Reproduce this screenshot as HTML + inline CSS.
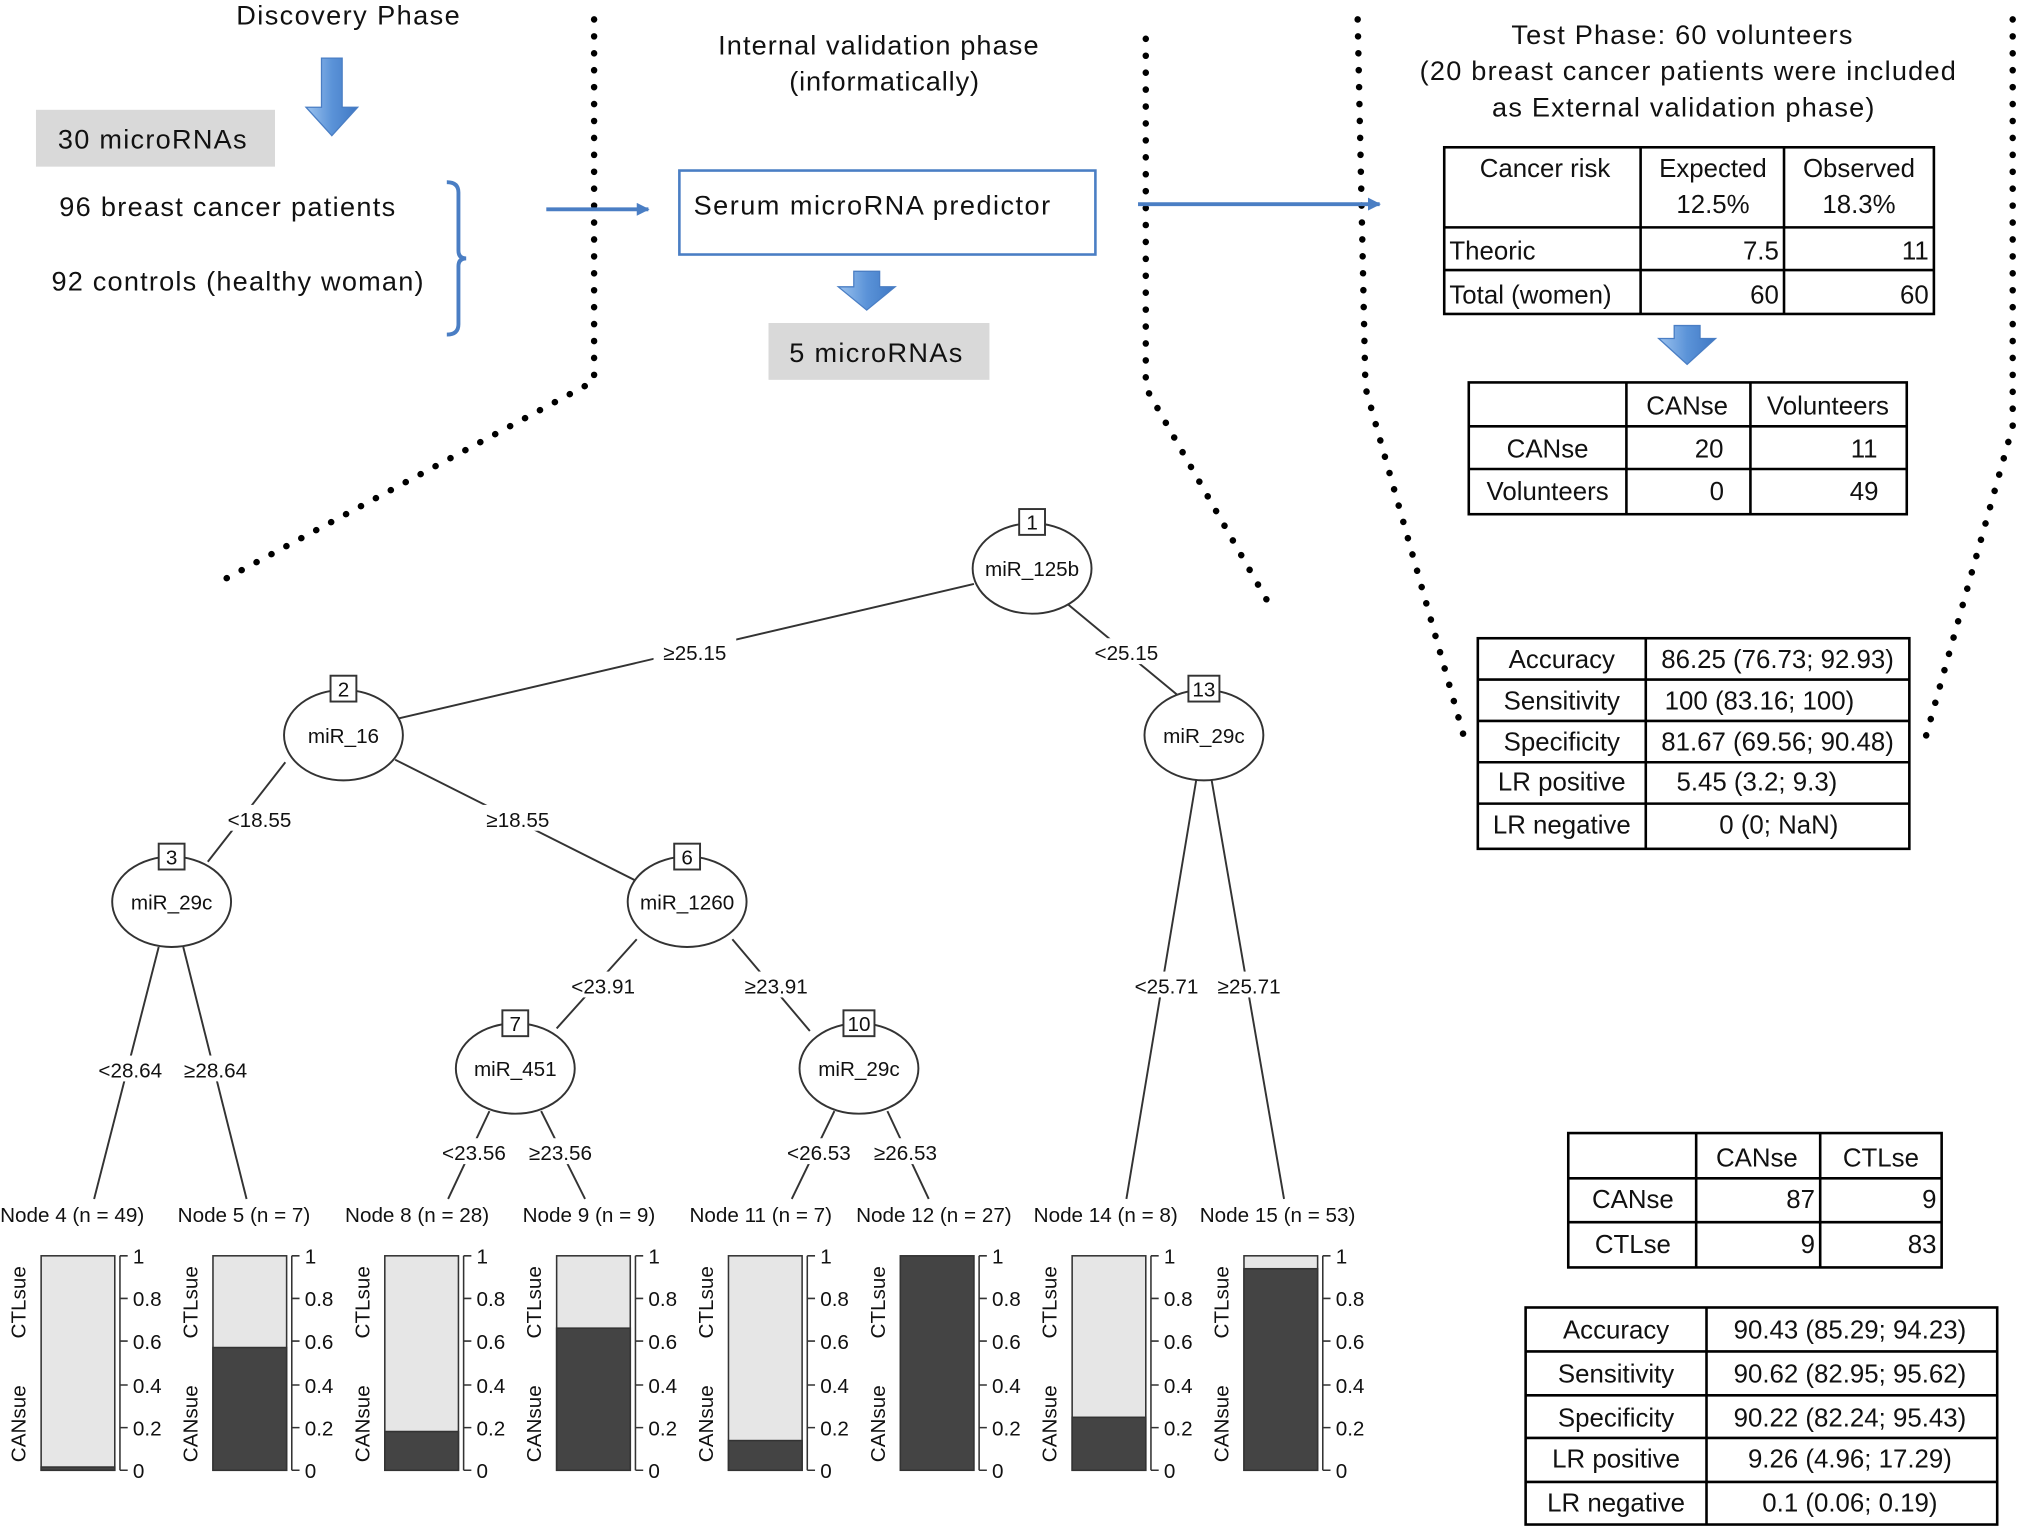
<!DOCTYPE html>
<html><head><meta charset="utf-8"><style>
html,body{margin:0;padding:0;background:#fff;}
svg{display:block;}
text{font-family:"Liberation Sans",sans-serif;fill:#111;}
.t{font-size:21px;}
.s{font-size:16px;}
.r{font-size:20px;}
</style></head><body>
<svg width="2028" height="1531" viewBox="0 0 1568 1185" xmlns="http://www.w3.org/2000/svg">
<defs>
<linearGradient id="bg" x1="0" x2="1"><stop offset="0" stop-color="#9cc3ef"/><stop offset="0.5" stop-color="#5b93d8"/><stop offset="1" stop-color="#3f78c4"/></linearGradient>
<marker id="ah" markerWidth="10" markerHeight="10" refX="9" refY="5" orient="auto" markerUnits="userSpaceOnUse"><path d="M0,0 L10,5 L0,10 z" fill="#4a7ec4"/></marker>
</defs>
<g stroke="#000" stroke-width="5" stroke-dasharray="0.1 13" stroke-linecap="round" fill="none">
<polyline points="459,15 459,295 170,450"/>
<polyline points="886,30 886,300 980,465"/>
<polyline points="1050,15 1056,300 1135,580"/>
<polyline points="1557,15 1557,330 1487,580"/>
</g>
<text class="t" x="182" y="19" textLength="173" lengthAdjust="spacing">Discovery  Phase</text>
<path d="M248,45 h16 v38 h12 l-20,22 l-20,-22 h12 z" fill="url(#bg)" stroke="#4a7ec4"/>
<rect x="27" y="85" width="185" height="44" fill="#d9d9d9"/>
<text class="t" x="44" y="115" textLength="146" lengthAdjust="spacing">30 microRNAs</text>
<text class="t" x="45" y="167" textLength="260" lengthAdjust="spacing">96 breast  cancer  patients</text>
<text class="t" x="39" y="225" textLength="288" lengthAdjust="spacing">92 controls (healthy woman)</text>
<path d="M345,141 q9,0 9,8 v45 q0,6 6,6 q-6,0 -6,6 v45 q0,8 -9,8" fill="none" stroke="#4a7ec4" stroke-width="3"/>
<line x1="422" y1="162" x2="501" y2="162" stroke="#4a7ec4" stroke-width="3" marker-end="url(#ah)"/>
<text class="t" x="555" y="42" textLength="248" lengthAdjust="spacing">Internal  validation  phase</text>
<text class="t" x="610" y="70" textLength="147" lengthAdjust="spacing">(informatically)</text>
<rect x="525" y="132" width="322" height="65" fill="#fff" stroke="#4a7ec4" stroke-width="2"/>
<text class="t" x="536" y="166" textLength="276" lengthAdjust="spacing">Serum  microRNA  predictor</text>
<path d="M660,210 h20 v12 h12 l-22,18 l-22,-18 h12 z" fill="url(#bg)" stroke="#4a7ec4"/>
<rect x="594" y="250" width="171" height="44" fill="#d9d9d9"/>
<text class="t" x="610" y="280" textLength="134" lengthAdjust="spacing">5 microRNAs</text>
<line x1="880" y1="158" x2="1067" y2="158" stroke="#4a7ec4" stroke-width="3" marker-end="url(#ah)"/>
<text class="t" x="1169" y="34" textLength="264" lengthAdjust="spacing">Test Phase:  60 volunteers</text>
<text class="t" x="1098" y="62" textLength="415" lengthAdjust="spacing">(20 breast  cancer  patients  were  included</text>
<text class="t" x="1154" y="90" textLength="296" lengthAdjust="spacing">as External validation  phase)</text>
<g fill="none" stroke="#000" stroke-width="2">
<rect x="1117" y="114" width="379" height="129"/>
<line x1="1269" y1="114" x2="1269" y2="243"/><line x1="1380" y1="114" x2="1380" y2="243"/>
<line x1="1117" y1="176" x2="1496" y2="176"/><line x1="1117" y1="209" x2="1496" y2="209"/>
<rect x="1136" y="296" width="339" height="102"/>
<line x1="1258" y1="296" x2="1258" y2="398"/><line x1="1354" y1="296" x2="1354" y2="398"/>
<line x1="1136" y1="330" x2="1475" y2="330"/><line x1="1136" y1="363" x2="1475" y2="363"/>
<rect x="1143" y="494" width="334" height="163"/>
<line x1="1273" y1="494" x2="1273" y2="657"/>
<line x1="1143" y1="526" x2="1477" y2="526"/><line x1="1143" y1="558" x2="1477" y2="558"/><line x1="1143" y1="590" x2="1477" y2="590"/><line x1="1143" y1="622" x2="1477" y2="622"/>
<rect x="1213" y="877" width="289" height="104"/>
<line x1="1312" y1="877" x2="1312" y2="981"/><line x1="1408" y1="877" x2="1408" y2="981"/>
<line x1="1213" y1="912" x2="1502" y2="912"/><line x1="1213" y1="946" x2="1502" y2="946"/>
<rect x="1180" y="1012" width="365" height="168"/>
<line x1="1320" y1="1012" x2="1320" y2="1180"/>
<line x1="1180" y1="1046" x2="1545" y2="1046"/><line x1="1180" y1="1080" x2="1545" y2="1080"/><line x1="1180" y1="1113" x2="1545" y2="1113"/><line x1="1180" y1="1147" x2="1545" y2="1147"/>
</g>
<text x="1195" y="137" text-anchor="middle" class="r">Cancer risk</text>
<text x="1325" y="137" text-anchor="middle" class="r">Expected</text><text x="1325" y="165" text-anchor="middle" class="r">12.5%</text>
<text x="1438" y="137" text-anchor="middle" class="r">Observed</text><text x="1438" y="165" text-anchor="middle" class="r">18.3%</text>
<text x="1121" y="201" class="r">Theoric</text><text x="1376" y="201" text-anchor="end" class="r">7.5</text><text x="1492" y="201" text-anchor="end" class="r">11</text>
<text x="1121" y="235" class="r">Total (women)</text><text x="1376" y="235" text-anchor="end" class="r">60</text><text x="1492" y="235" text-anchor="end" class="r">60</text>
<path d="M1295,252 h20 v10 h12 l-22,20 l-22,-20 h12 z" fill="url(#bg)" stroke="#4a7ec4"/>
<text x="1305" y="321" text-anchor="middle" class="r">CANse</text><text x="1414" y="321" text-anchor="middle" class="r">Volunteers</text>
<text x="1197" y="354" text-anchor="middle" class="r">CANse</text><text x="1322" y="354" text-anchor="middle" class="r">20</text><text x="1442" y="354" text-anchor="middle" class="r">11</text>
<text x="1197" y="387" text-anchor="middle" class="r">Volunteers</text><text x="1328" y="387" text-anchor="middle" class="r">0</text><text x="1442" y="387" text-anchor="middle" class="r">49</text>
<text x="1208" y="517" text-anchor="middle" class="r">Accuracy</text><text x="1375" y="517" text-anchor="middle" class="r">86.25 (76.73; 92.93)</text>
<text x="1208" y="549" text-anchor="middle" class="r">Sensitivity</text><text x="1361" y="549" text-anchor="middle" class="r">100 (83.16; 100)</text>
<text x="1208" y="581" text-anchor="middle" class="r">Specificity</text><text x="1375" y="581" text-anchor="middle" class="r">81.67 (69.56; 90.48)</text>
<text x="1208" y="612" text-anchor="middle" class="r">LR positive</text><text x="1359" y="612" text-anchor="middle" class="r">5.45 (3.2; 9.3)</text>
<text x="1208" y="645" text-anchor="middle" class="r">LR negative</text><text x="1376" y="645" text-anchor="middle" class="r">0 (0; NaN)</text>
<text x="1359" y="903" text-anchor="middle" class="r">CANse</text><text x="1455" y="903" text-anchor="middle" class="r">CTLse</text>
<text x="1263" y="935" text-anchor="middle" class="r">CANse</text><text x="1404" y="935" text-anchor="end" class="r">87</text><text x="1498" y="935" text-anchor="end" class="r">9</text>
<text x="1263" y="970" text-anchor="middle" class="r">CTLse</text><text x="1404" y="970" text-anchor="end" class="r">9</text><text x="1498" y="970" text-anchor="end" class="r">83</text>
<text x="1250" y="1036" text-anchor="middle" class="r">Accuracy</text><text x="1431" y="1036" text-anchor="middle" class="r">90.43 (85.29; 94.23)</text>
<text x="1250" y="1070" text-anchor="middle" class="r">Sensitivity</text><text x="1431" y="1070" text-anchor="middle" class="r">90.62 (82.95; 95.62)</text>
<text x="1250" y="1104" text-anchor="middle" class="r">Specificity</text><text x="1431" y="1104" text-anchor="middle" class="r">90.22 (82.24; 95.43)</text>
<text x="1250" y="1136" text-anchor="middle" class="r">LR positive</text><text x="1431" y="1136" text-anchor="middle" class="r">9.26 (4.96; 17.29)</text>
<text x="1250" y="1170" text-anchor="middle" class="r">LR negative</text><text x="1431" y="1170" text-anchor="middle" class="r">0.1 (0.06; 0.19)</text>
<g stroke="#333" stroke-width="1.5">
<line x1="753" y1="452" x2="308" y2="556"/><line x1="826" y1="468" x2="913" y2="540"/>
<line x1="220" y1="590" x2="160" y2="667"/><line x1="305" y1="588" x2="492" y2="682"/>
<line x1="122" y1="733" x2="72" y2="928"/><line x1="141" y1="733" x2="190" y2="928"/>
<line x1="492" y1="727" x2="430" y2="796"/><line x1="566" y1="727" x2="626" y2="798"/>
<line x1="378" y1="860" x2="346" y2="928"/><line x1="418" y1="860" x2="452" y2="928"/>
<line x1="645" y1="860" x2="612" y2="928"/><line x1="686" y1="860" x2="718" y2="928"/>
<line x1="925" y1="604" x2="871" y2="928"/><line x1="937" y1="604" x2="993" y2="928"/>
</g>
<rect x="505" y="494" width="64" height="20" fill="#fff"/><text x="537" y="511" text-anchor="middle" class="s">≥25.15</text>
<rect x="841" y="494" width="60" height="20" fill="#fff"/><text x="871" y="511" text-anchor="middle" class="s">&lt;25.15</text>
<rect x="170" y="623" width="60" height="20" fill="#fff"/><text x="200" y="640" text-anchor="middle" class="s">&lt;18.55</text>
<rect x="368" y="623" width="64" height="20" fill="#fff"/><text x="400" y="640" text-anchor="middle" class="s">≥18.55</text>
<rect x="70" y="817" width="60" height="20" fill="#fff"/><text x="100" y="834" text-anchor="middle" class="s">&lt;28.64</text>
<rect x="136" y="817" width="60" height="20" fill="#fff"/><text x="166" y="834" text-anchor="middle" class="s">≥28.64</text>
<rect x="436" y="752" width="60" height="20" fill="#fff"/><text x="466" y="769" text-anchor="middle" class="s">&lt;23.91</text>
<rect x="570" y="752" width="60" height="20" fill="#fff"/><text x="600" y="769" text-anchor="middle" class="s">≥23.91</text>
<rect x="336" y="881" width="60" height="20" fill="#fff"/><text x="366" y="898" text-anchor="middle" class="s">&lt;23.56</text>
<rect x="403" y="881" width="60" height="20" fill="#fff"/><text x="433" y="898" text-anchor="middle" class="s">≥23.56</text>
<rect x="603" y="881" width="60" height="20" fill="#fff"/><text x="633" y="898" text-anchor="middle" class="s">&lt;26.53</text>
<rect x="670" y="881" width="60" height="20" fill="#fff"/><text x="700" y="898" text-anchor="middle" class="s">≥26.53</text>
<rect x="872" y="752" width="62" height="20" fill="#fff"/><text x="902" y="769" text-anchor="middle" class="s">&lt;25.71</text>
<rect x="937" y="752" width="60" height="20" fill="#fff"/><text x="966" y="769" text-anchor="middle" class="s">≥25.71</text>
<g fill="#fff" stroke="#333" stroke-width="1.5">
<ellipse cx="798" cy="440" rx="46" ry="35"/><rect x="788" y="394" width="20" height="20"/>
<ellipse cx="265" cy="569" rx="46" ry="35"/><rect x="255" y="523" width="20" height="20"/>
<ellipse cx="931" cy="569" rx="46" ry="35"/><rect x="919" y="523" width="24" height="20"/>
<ellipse cx="132" cy="698" rx="46" ry="35"/><rect x="122" y="653" width="20" height="20"/>
<ellipse cx="531" cy="698" rx="46" ry="35"/><rect x="521" y="653" width="20" height="20"/>
<ellipse cx="398" cy="827" rx="46" ry="35"/><rect x="388" y="782" width="20" height="20"/>
<ellipse cx="664" cy="827" rx="46" ry="35"/><rect x="652" y="782" width="24" height="20"/>
</g>
<text x="798" y="446" text-anchor="middle" class="s">miR_125b</text><text x="798" y="410" text-anchor="middle" class="s">1</text>
<text x="265" y="575" text-anchor="middle" class="s">miR_16</text><text x="265" y="539" text-anchor="middle" class="s">2</text>
<text x="931" y="575" text-anchor="middle" class="s">miR_29c</text><text x="931" y="539" text-anchor="middle" class="s">13</text>
<text x="132" y="704" text-anchor="middle" class="s">miR_29c</text><text x="132" y="669" text-anchor="middle" class="s">3</text>
<text x="531" y="704" text-anchor="middle" class="s">miR_1260</text><text x="531" y="669" text-anchor="middle" class="s">6</text>
<text x="398" y="833" text-anchor="middle" class="s">miR_451</text><text x="398" y="798" text-anchor="middle" class="s">7</text>
<text x="664" y="833" text-anchor="middle" class="s">miR_29c</text><text x="664" y="798" text-anchor="middle" class="s">10</text>
<text x="55" y="946" text-anchor="middle" class="s">Node 4 (n = 49)</text>
<text x="188" y="946" text-anchor="middle" class="s">Node 5 (n = 7)</text>
<text x="322" y="946" text-anchor="middle" class="s">Node 8 (n = 28)</text>
<text x="455" y="946" text-anchor="middle" class="s">Node 9 (n = 9)</text>
<text x="588" y="946" text-anchor="middle" class="s">Node 11 (n = 7)</text>
<text x="722" y="946" text-anchor="middle" class="s">Node 12 (n = 27)</text>
<text x="855" y="946" text-anchor="middle" class="s">Node 14 (n = 8)</text>
<text x="988" y="946" text-anchor="middle" class="s">Node 15 (n = 53)</text>
<g stroke="#333" stroke-width="1.2">
<rect x="31" y="972" width="57" height="166" fill="#e6e6e6"/><rect x="31" y="1135.5" width="57" height="2.5" fill="#444"/>
<rect x="164" y="972" width="57" height="166" fill="#e6e6e6"/><rect x="164" y="1043" width="57" height="95" fill="#444"/>
<rect x="297" y="972" width="57" height="166" fill="#e6e6e6"/><rect x="297" y="1108" width="57" height="30" fill="#444"/>
<rect x="430" y="972" width="57" height="166" fill="#e6e6e6"/><rect x="430" y="1028" width="57" height="110" fill="#444"/>
<rect x="563" y="972" width="57" height="166" fill="#e6e6e6"/><rect x="563" y="1115" width="57" height="23" fill="#444"/>
<rect x="696" y="972" width="57" height="166" fill="#444"/>
<rect x="829" y="972" width="57" height="166" fill="#e6e6e6"/><rect x="829" y="1097" width="57" height="41" fill="#444"/>
<rect x="962" y="972" width="57" height="166" fill="#e6e6e6"/><rect x="962" y="982" width="57" height="156" fill="#444"/>
</g>
<g stroke="#333" stroke-width="1.2" fill="none">
<path id="ax" d="M92,972 v166 M92,972 h6 M92,1005 h6 M92,1038 h6 M92,1072 h6 M92,1105 h6 M92,1138 h6"/>
<use href="#ax" x="133"/><use href="#ax" x="266"/><use href="#ax" x="399"/><use href="#ax" x="532"/><use href="#ax" x="665"/><use href="#ax" x="798"/><use href="#ax" x="931"/>
</g>
<g transform="translate(102,0)"><text y="978" class="s">1</text><text y="1011" class="s">0.8</text><text y="1044" class="s">0.6</text><text y="1078" class="s">0.4</text><text y="1111" class="s">0.2</text><text y="1144" class="s">0</text></g>
<g transform="translate(235,0)"><text y="978" class="s">1</text><text y="1011" class="s">0.8</text><text y="1044" class="s">0.6</text><text y="1078" class="s">0.4</text><text y="1111" class="s">0.2</text><text y="1144" class="s">0</text></g>
<g transform="translate(368,0)"><text y="978" class="s">1</text><text y="1011" class="s">0.8</text><text y="1044" class="s">0.6</text><text y="1078" class="s">0.4</text><text y="1111" class="s">0.2</text><text y="1144" class="s">0</text></g>
<g transform="translate(501,0)"><text y="978" class="s">1</text><text y="1011" class="s">0.8</text><text y="1044" class="s">0.6</text><text y="1078" class="s">0.4</text><text y="1111" class="s">0.2</text><text y="1144" class="s">0</text></g>
<g transform="translate(634,0)"><text y="978" class="s">1</text><text y="1011" class="s">0.8</text><text y="1044" class="s">0.6</text><text y="1078" class="s">0.4</text><text y="1111" class="s">0.2</text><text y="1144" class="s">0</text></g>
<g transform="translate(767,0)"><text y="978" class="s">1</text><text y="1011" class="s">0.8</text><text y="1044" class="s">0.6</text><text y="1078" class="s">0.4</text><text y="1111" class="s">0.2</text><text y="1144" class="s">0</text></g>
<g transform="translate(900,0)"><text y="978" class="s">1</text><text y="1011" class="s">0.8</text><text y="1044" class="s">0.6</text><text y="1078" class="s">0.4</text><text y="1111" class="s">0.2</text><text y="1144" class="s">0</text></g>
<g transform="translate(1033,0)"><text y="978" class="s">1</text><text y="1011" class="s">0.8</text><text y="1044" class="s">0.6</text><text y="1078" class="s">0.4</text><text y="1111" class="s">0.2</text><text y="1144" class="s">0</text></g>
<text transform="translate(19,1008) rotate(-90)" text-anchor="middle" class="s">CTLsue</text><text transform="translate(19,1102) rotate(-90)" text-anchor="middle" class="s">CANsue</text>
<text transform="translate(152,1008) rotate(-90)" text-anchor="middle" class="s">CTLsue</text><text transform="translate(152,1102) rotate(-90)" text-anchor="middle" class="s">CANsue</text>
<text transform="translate(285,1008) rotate(-90)" text-anchor="middle" class="s">CTLsue</text><text transform="translate(285,1102) rotate(-90)" text-anchor="middle" class="s">CANsue</text>
<text transform="translate(418,1008) rotate(-90)" text-anchor="middle" class="s">CTLsue</text><text transform="translate(418,1102) rotate(-90)" text-anchor="middle" class="s">CANsue</text>
<text transform="translate(551,1008) rotate(-90)" text-anchor="middle" class="s">CTLsue</text><text transform="translate(551,1102) rotate(-90)" text-anchor="middle" class="s">CANsue</text>
<text transform="translate(684,1008) rotate(-90)" text-anchor="middle" class="s">CTLsue</text><text transform="translate(684,1102) rotate(-90)" text-anchor="middle" class="s">CANsue</text>
<text transform="translate(817,1008) rotate(-90)" text-anchor="middle" class="s">CTLsue</text><text transform="translate(817,1102) rotate(-90)" text-anchor="middle" class="s">CANsue</text>
<text transform="translate(950,1008) rotate(-90)" text-anchor="middle" class="s">CTLsue</text><text transform="translate(950,1102) rotate(-90)" text-anchor="middle" class="s">CANsue</text>
</svg>
</body></html>
